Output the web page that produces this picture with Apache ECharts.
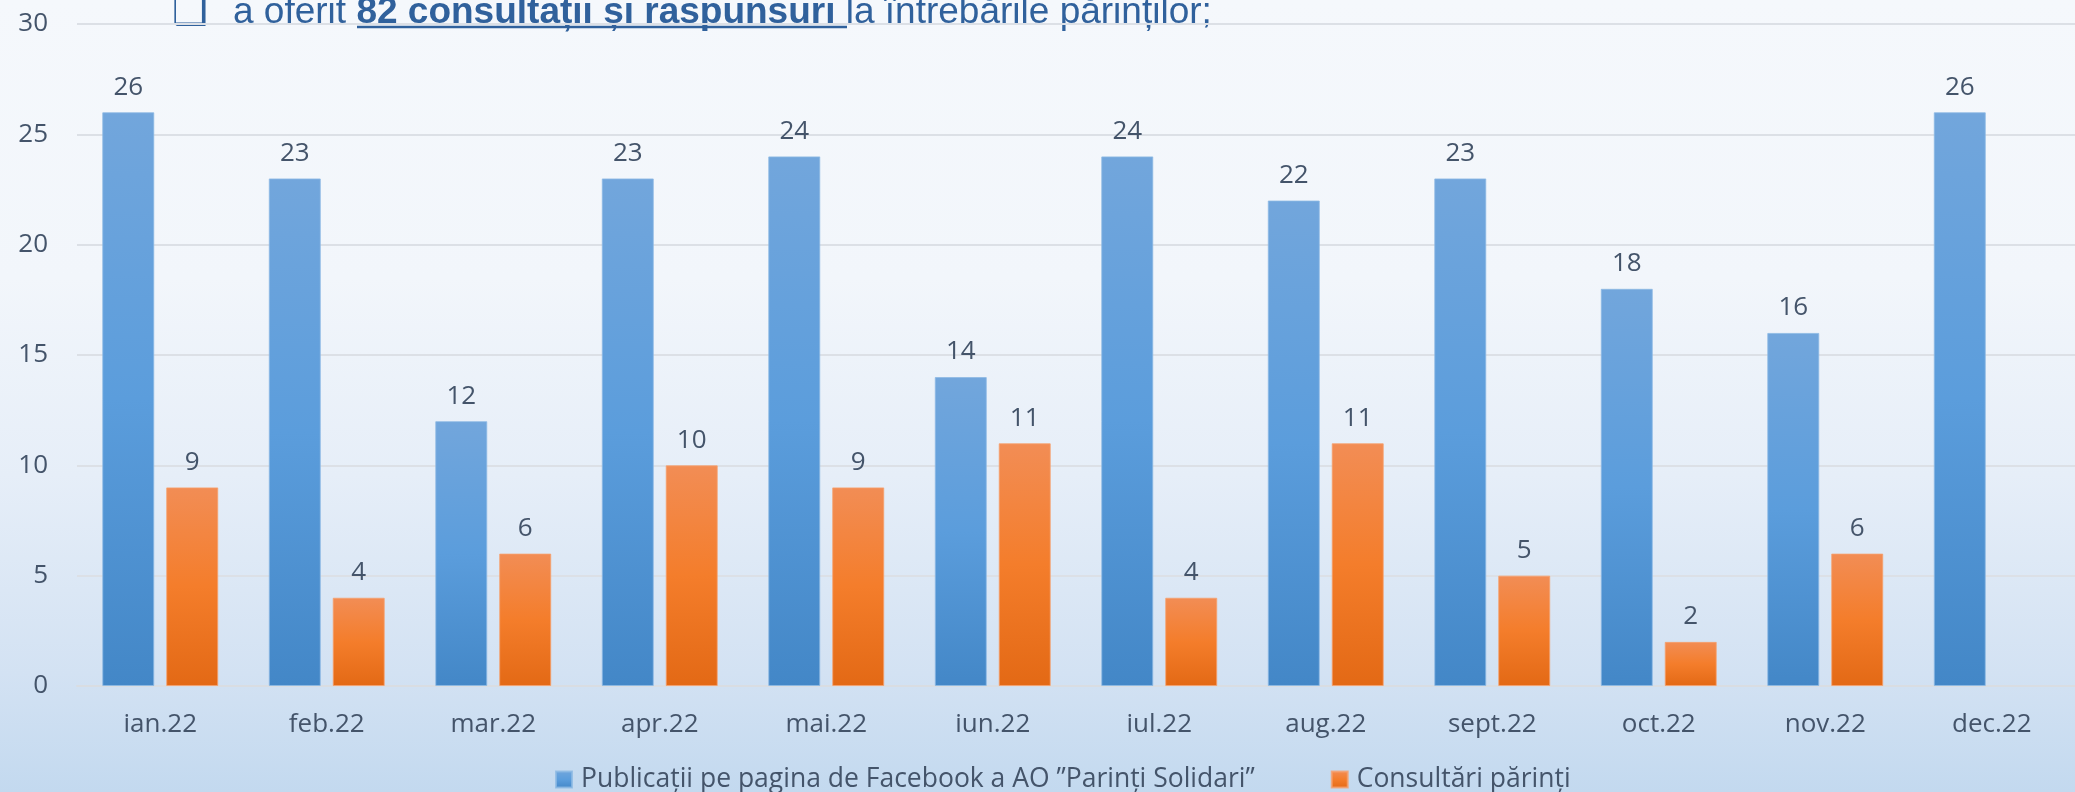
<!DOCTYPE html>
<html>
<head>
<meta charset="utf-8">
<title>Publicatii si consultari 2022</title>
<script src="https://cdn.jsdelivr.net/npm/echarts@6/dist/echarts.min.js"></script>
<style>
  html, body { margin: 0; padding: 0; }
  #main { width: 2075px; height: 792px; }
</style>
</head>
<body>
<div id="main"></div>
<script>
    // data
    var months = ['ian.22', 'feb.22', 'mar.22', 'apr.22', 'mai.22', 'iun.22', 'iul.22', 'aug.22', 'sept.22', 'oct.22', 'nov.22', 'dec.22'];
    var publicatii = [26, 23, 12, 23, 24, 14, 24, 22, 23, 18, 16, 26];
    var consultari = [9, 4, 6, 10, 9, 11, 4, 11, 5, 2, 6, null];
    var seriesNames = ['Publicații pe pagina de Facebook a AO ”Parinți Solidari”', 'Consultări părinți'];

    var myChart = echarts.init(document.getElementById('main'));
    var option = null;

    var labelColor = '#44546a';
    var titleColor = '#30619c';
    var font = '"Open Sans", "Noto Sans", sans-serif';

    var grad = function (stops) {
        return new echarts.graphic.LinearGradient(0, 0, 0, 1, stops.map(function (c, i) {
            return { offset: i / (stops.length - 1), color: c };
        }));
    };

    option = {
        backgroundColor: new echarts.graphic.LinearGradient(0, 0, 0, 1, [
            { offset: 0, color: '#f5f8fc' },
            { offset: 0.35, color: '#f2f6fb' },
            { offset: 0.6, color: '#e6eef8' },
            { offset: 0.85, color: '#d3e2f3' },
            { offset: 1, color: '#c3d9ef' }
        ]),
        animation: false,
        textStyle: { fontFamily: font },
        grid: {
            left: 77,
            top: 24,
            width: 2016,
            height: 662
        },
        legend: {
            data: seriesNames,
            left: 555,
            top: 766,
            padding: 0,
            icon: 'rect',
            itemWidth: 16,
            itemHeight: 16,
            itemGap: 76,
            textStyle: {
                fontSize: 26.5,
                color: labelColor,
                fontFamily: font,
                padding: [0, 0, 0, 4]
            }
        },
        xAxis: {
            type: 'category',
            data: months,
            axisTick: { show: false },
            axisLine: { lineStyle: { color: '#d9dde2', width: 2 } },
            axisLabel: {
                fontSize: 26,
                color: labelColor,
                margin: 26
            }
        },
        yAxis: {
            type: 'value',
            min: 0,
            max: 30,
            interval: 5,
            axisLine: { show: false },
            axisTick: { show: false },
            splitLine: { lineStyle: { color: '#dce0e6', width: 2 } },
            axisLabel: {
                fontSize: 26,
                color: labelColor,
                margin: 29
            }
        },
        graphic: [
            // bullet box, top cut by the page edge
            {
                type: 'text',
                left: 172,
                top: -6,
                style: {
                    text: '❑',
                    font: 'bold 40px "DejaVu Sans"',
                    fill: titleColor
                }
            },
            {
                type: 'text',
                x: 233,
                y: 13,
                style: {
                    text: '{n|a oferit }{b|82 consultații și raspunsuri}{n| la întrebările părinților;}',
                    verticalAlign: 'middle',
                    rich: {
                        n: { fontSize: 37, fontFamily: '"Liberation Sans", Arial', fill: titleColor, color: titleColor },
                        b: { fontSize: 37, fontFamily: '"Liberation Sans", Arial', fontWeight: 'bold', fill: titleColor, color: titleColor }
                    }
                }
            },
            {
                type: 'line',
                shape: { x1: 357, y1: 27, x2: 847, y2: 27 },
                style: { stroke: titleColor, lineWidth: 2.5 }
            }
        ],
        series: [
            {
                name: seriesNames[0],
                type: 'bar',
                data: publicatii,
                barWidth: 52,
                barGap: '23%',
                itemStyle: {
                    color: grad(['#72a6dc', '#5b9ddc', '#4387c7']),
                    borderColor: 'rgba(140,185,228,0.8)',
                    borderWidth: 1
                },
                label: {
                    show: true,
                    position: 'top',
                    distance: 12,
                    fontSize: 26,
                    color: labelColor
                }
            },
            {
                name: seriesNames[1],
                type: 'bar',
                data: consultari,
                barWidth: 52,
                itemStyle: {
                    color: grad(['#f28d55', '#f47d2b', '#e36915']),
                    borderColor: 'rgba(246,160,110,0.8)',
                    borderWidth: 1
                },
                label: {
                    show: true,
                    position: 'top',
                    distance: 12,
                    fontSize: 26,
                    color: labelColor
                }
            }
        ]
    };

    myChart.setOption(option);
</script>
</body>
</html>
